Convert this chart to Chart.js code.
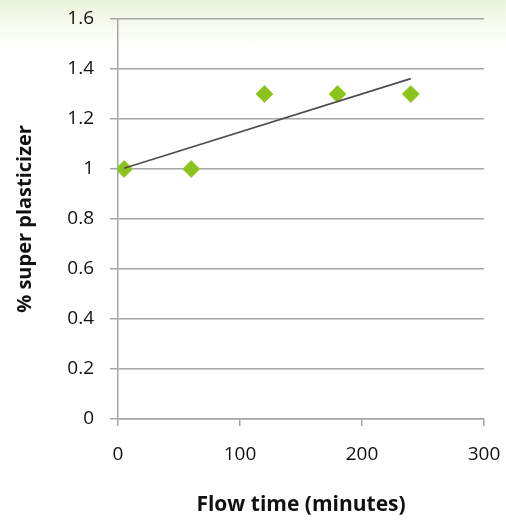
<!DOCTYPE html>
<html>
<head>
<meta charset="utf-8">
<script src="https://cdn.jsdelivr.net/npm/chart.js@4/dist/chart.umd.min.js"></script>
<style>
  html, body { margin: 0; padding: 0; }
  body {
    width: 506px; height: 529px; overflow: hidden;
    background: linear-gradient(to bottom, #ebf4dd 0px, #f7fbf1 28px, #ffffff 52px);
  }
  #wrap { position: relative; width: 506px; height: 529px; }
</style>
</head>
<body>
<div id="wrap"><canvas id="chart-flow"></canvas></div>
<script>
// flow time (minutes) vs % super plasticizer
const FLOW_TIME   = [5, 60, 120, 180, 240];
const PLASTICIZER = [1, 1, 1.3, 1.3, 1.3];

const X_TICKS = [0, 100, 200, 300];
const Y_TICKS = [0, 0.2, 0.4, 0.6, 0.8, 1, 1.2, 1.4, 1.6];

const GRID_COLOR   = "#a6a6a6";
const TEXT_COLOR   = "#111111";
const MARKER_COLOR = "#8cc21c";
const TREND_COLOR  = "#4d4d4d";
const FONT = "'Open Sans', 'Noto Sans', sans-serif";

// least-squares trendline across the measured range
function linearFit(xs, ys) {
  const n = xs.length;
  const mx = xs.reduce((s, v) => s + v, 0) / n;
  const my = ys.reduce((s, v) => s + v, 0) / n;
  let sxy = 0, sxx = 0;
  xs.forEach((x, i) => { sxy += (x - mx) * (ys[i] - my); sxx += (x - mx) ** 2; });
  const slope = sxy / sxx;
  return x => my + slope * (x - mx);
}

const fit = linearFit(FLOW_TIME, PLASTICIZER);
const xMin = Math.min(...FLOW_TIME), xMax = Math.max(...FLOW_TIME);
const trend = [{ x: xMin, y: fit(xMin) }, { x: xMax, y: fit(xMax) }];

// fixed axis boxes, no label overhang into the layout padding
function fixBox(size) {
  return s => {
    if (s.isHorizontal()) s.height = size; else s.width = size;
    s.paddingTop = s.paddingBottom = s.paddingLeft = s.paddingRight = 0;
  };
}

new Chart(document.getElementById("chart-flow"), {
  type: "scatter",
  data: {
    datasets: [
      {
        label: "% super plasticizer",
        data: FLOW_TIME.map((x, i) => ({ x, y: PLASTICIZER[i] })),
        pointStyle: "rectRot",
        pointRadius: 8.5,
        pointHoverRadius: 8.5,
        backgroundColor: MARKER_COLOR,
        borderColor: "#9ccf33",
        borderWidth: 1,
        order: 2,
      },
      {
        type: "line",
        label: "Linear",
        data: trend,
        borderColor: TREND_COLOR,
        borderWidth: 1.6,
        pointRadius: 0,
        fill: false,
        order: 1,
      },
    ],
  },
  options: {
    responsive: true,
    maintainAspectRatio: false,
    animation: false,
    layout: { padding: { top: 19, right: 22, left: 0, bottom: 0 } },
    plugins: { legend: { display: false }, tooltip: { enabled: false } },
    scales: {
      x: {
        type: "linear",
        min: 0, max: 300,
        afterBuildTicks: s => { s.ticks = X_TICKS.map(v => ({ value: v })); },
        afterFit: fixBox(110),
        ticks: { color: TEXT_COLOR, font: { family: FONT, size: 19 }, padding: 17 },
        grid: { drawOnChartArea: false, drawTicks: true, tickLength: 7, color: GRID_COLOR, lineWidth: 1.5 },
        border: { display: true, color: GRID_COLOR, width: 1.5 },
        title: {
          display: true, text: "Flow time (minutes)", color: TEXT_COLOR,
          font: { family: FONT, size: 21, weight: "bold" }, padding: { top: 26, bottom: 11 },
        },
      },
      y: {
        min: 0, max: 1.6,
        afterBuildTicks: s => { s.ticks = Y_TICKS.map(v => ({ value: v })); },
        afterFit: fixBox(118),
        ticks: {
          color: TEXT_COLOR, font: { family: FONT, size: 19 }, padding: 16,
          callback: v => String(+v.toFixed(1)),
        },
        grid: { color: GRID_COLOR, lineWidth: 1.5, tickLength: 8 },
        border: { display: true, color: GRID_COLOR, width: 1.5 },
        title: {
          display: true, text: "% super plasticizer", color: TEXT_COLOR,
          font: { family: FONT, size: 20, weight: "bold" }, padding: { top: 13, bottom: 0 },
        },
      },
    },
  },
});
</script>
</body>
</html>
